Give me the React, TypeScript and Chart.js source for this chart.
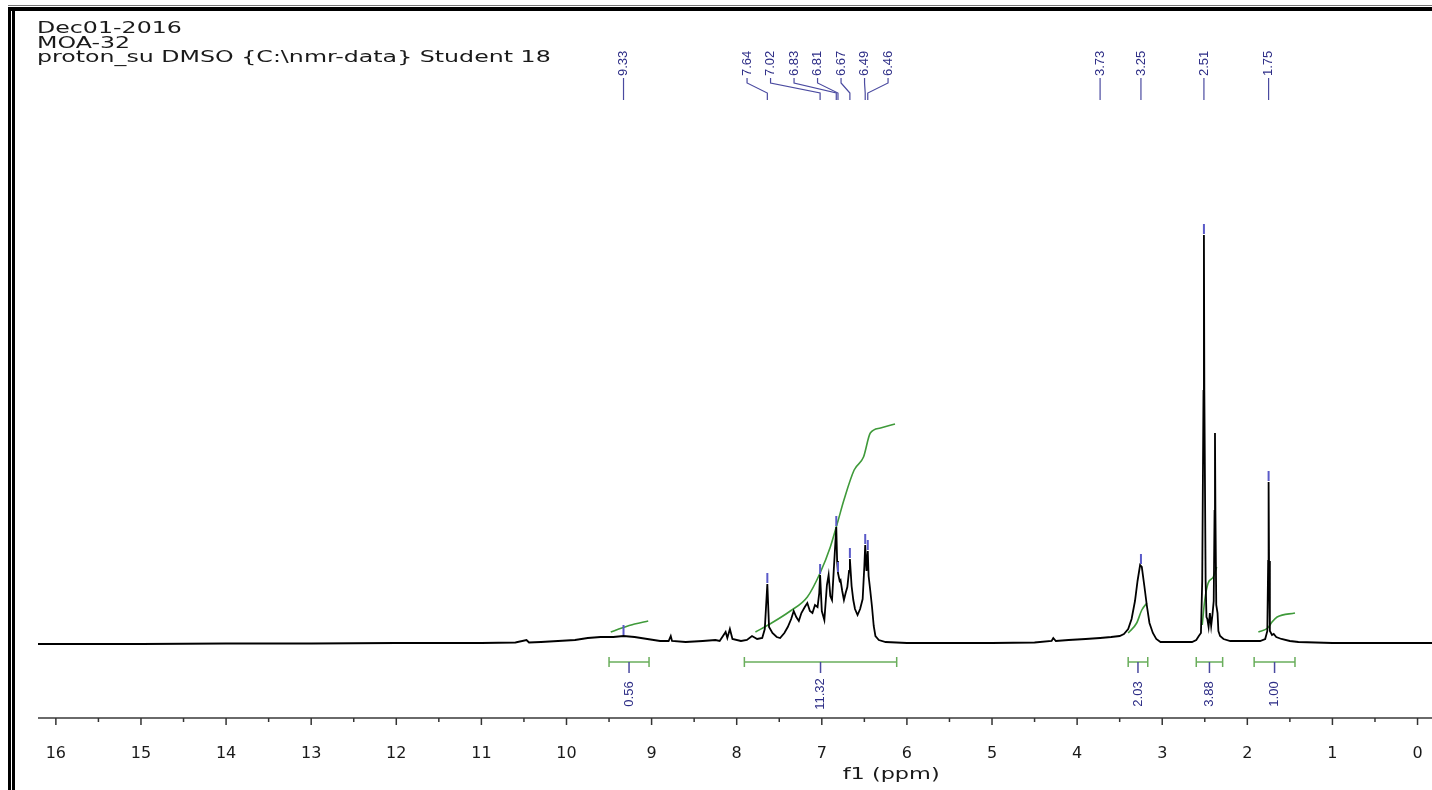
import React, { useEffect, useRef } from 'react';
import { Chart, registerables } from 'chart.js';

Chart.register(...registerables);

// ---------- text ----------
const TITLE_LINES = ['Dec01-2016', 'MOA-32', 'proton_su DMSO {C:\\nmr-data} Student 18'];
const AXIS_TITLE = 'f1 (ppm)';
const X_TICKS = [0, 1, 2, 3, 4, 5, 6, 7, 8, 9, 10, 11, 12, 13, 14, 15, 16];

// ---------- spectrum (ppm, intensity) ----------
const SPEC_PPM = [
  16.21, 15.0, 14.0, 13.0, 12.0, 11.0, 10.6, 10.47, 10.44, 10.3,
  10.1, 9.9, 9.75, 9.6, 9.45, 9.33, 9.2, 9.05, 8.9, 8.8, 8.775, 8.76, 8.6, 8.4, 8.25,
  8.2, 8.13, 8.11, 8.08, 8.05, 7.95, 7.88, 7.82, 7.76, 7.7, 7.67, 7.64, 7.62, 7.58, 7.53,
  7.49, 7.44, 7.4, 7.36, 7.33, 7.3, 7.27, 7.24, 7.2, 7.17, 7.14, 7.11, 7.08, 7.05, 7.03,
  7.02, 7.0, 6.97, 6.94, 6.92, 6.9, 6.88, 6.86, 6.83, 6.82, 6.81, 6.79, 6.78, 6.76, 6.74,
  6.72, 6.7, 6.68, 6.67, 6.65, 6.63, 6.61, 6.58, 6.55, 6.52, 6.5, 6.49, 6.475, 6.46, 6.45,
  6.43, 6.41, 6.39, 6.37, 6.33, 6.25, 6.0, 5.5, 5.0, 4.5, 4.3, 4.28, 4.25, 4.1, 3.9,
  3.73, 3.6, 3.5, 3.45, 3.4, 3.36, 3.32, 3.29, 3.26, 3.24, 3.21, 3.18, 3.15, 3.11, 3.07,
  3.02, 2.95, 2.85, 2.65, 2.6, 2.57, 2.545, 2.53, 2.515, 2.51, 2.505, 2.49, 2.48, 2.47, 2.455,
  2.44, 2.425, 2.41, 2.395, 2.385, 2.38, 2.375, 2.365, 2.35, 2.34, 2.32, 2.28, 2.2, 1.95, 1.85,
  1.79, 1.765, 1.755, 1.75, 1.745, 1.735, 1.71, 1.69, 1.66, 1.6, 1.5, 1.4, 1.0, 0.5, 0.0, -0.17,
];
const SPEC_INT = [
  -3, -3, -2.5, -2.5, -2, -2, -1.5, 1, -1.5, -1,
  0, 1, 3, 4, 4, 5, 4, 2, 0, 0, 5, 0, -1, 0, 1,
  0, 9, 3, 12, 2, 0, 1, 5, 2, 3, 12, 57, 14, 8, 4,
  3, 8, 14, 22, 30, 24, 20, 28, 34, 38, 30, 28, 36, 34, 48,
  66, 30, 21, 56, 66, 45, 41, 70, 114, 80, 68, 60, 61, 50, 41,
  48, 54, 70, 82, 55, 41, 32, 26, 32, 42, 75, 96, 70, 90, 65,
  50, 34, 15, 5, 1, -1, -2, -2, -2, -1.5, 0, 3, 0, 1, 2,
  3, 4, 5, 7, 12, 22, 40, 60, 76, 74, 55, 35, 18, 8, 2,
  -1, -1, -1, -1, 1, 5, 8, 60, 250, 406, 250, 60, 24, 22, 14,
  28, 15, 26, 40, 130, 208, 130, 36, 28, 10, 5, 2, 0, 0, 0,
  2, 10, 80, 159, 80, 10, 6, 7, 4, 2, 0, -1, -2, -2, -2, -2,
];

// ---------- integral curves ----------
const INT1_PPM = [9.48, 9.35, 9.2, 9.04];
const INT1_VAL = [9, 13, 17, 20];
const INT2_PPM = [7.78, 7.61, 7.37, 7.17, 7.02, 6.9, 6.81, 6.74, 6.62, 6.51, 6.43, 6.31, 6.14];
const INT2_VAL = [9, 17, 30, 44, 68, 94, 120, 141, 171, 184, 208, 213, 217];
const INT3_PPM = [3.4, 3.3, 3.24, 3.18];
const INT3_VAL = [8, 18, 31, 38];
const INT4_PPM = [2.53, 2.5, 2.46, 2.4, 2.36];
const INT4_VAL = [16, 41, 58, 64, 74];
const INT5_PPM = [1.87, 1.76, 1.71, 1.65, 1.44];
const INT5_VAL = [9, 13, 19, 24, 28];

// ---------- peak picking & integration ----------
const PEAK_LABELS = [9.33, 7.64, 7.02, 6.83, 6.81, 6.67, 6.49, 6.46, 3.73, 3.25, 2.51, 1.75];
const BRACKET_FROM = [9.5, 7.91, 3.4, 2.6, 1.92];
const BRACKET_TO = [9.03, 6.12, 3.17, 2.29, 1.44];
const BRACKET_VALUES = ['0.56', '11.32', '2.03', '3.88', '1.00'];

const toPoints = (xs: number[], ys: number[]) => xs.map((x, i) => ({ x, y: ys[i] }));

const BLUE = '#2d2d86';
const BLUE_LINE = '#4a4aa0';
const GREEN = '#3f9a3a';
const GREEN_BRACKET = '#6aae5c';

const decorPlugin = {
  id: 'nmrDecor',
  afterDraw(chart: any) {
    const ctx: CanvasRenderingContext2D = chart.ctx;
    const xs = chart.scales.x;
    const ys = chart.scales.y;
    ctx.save();

    // window frame
    ctx.fillStyle = '#777';
    ctx.fillRect(8, 5, 1432, 1);
    ctx.fillStyle = '#000';
    ctx.fillRect(8, 7, 1432, 4);
    ctx.fillRect(8, 7, 3, 790);
    ctx.fillRect(12, 7, 3, 790);

    // title lines
    ctx.fillStyle = '#1a1a1a';
    ctx.font = '15px "DejaVu Sans"';
    ctx.textAlign = 'left';
    ctx.textBaseline = 'alphabetic';
    TITLE_LINES.forEach((line, i) => {
      ctx.save();
      ctx.translate(37, 33 + i * 14.5);
      ctx.scale(1.58, 1);
      ctx.fillText(line, 0, 0);
      ctx.restore();
    });

    // x axis line and ticks
    const axisY = xs.top;
    ctx.strokeStyle = '#6a6a6a';
    ctx.lineWidth = 2;
    ctx.beginPath();
    ctx.moveTo(xs.left, axisY);
    ctx.lineTo(xs.right, axisY);
    ctx.stroke();
    ctx.strokeStyle = '#333';
    ctx.lineWidth = 1.5;
    X_TICKS.forEach((t) => {
      const px = xs.getPixelForValue(t);
      ctx.beginPath();
      ctx.moveTo(px, axisY);
      ctx.lineTo(px, axisY + 7);
      ctx.stroke();
      const half = t + 0.5;
      if (half <= xs.max) {
        const ph = xs.getPixelForValue(half);
        ctx.beginPath();
        ctx.moveTo(ph, axisY);
        ctx.lineTo(ph, axisY + 4);
        ctx.stroke();
      }
    });

    // axis title
    ctx.fillStyle = '#1a1a1a';
    ctx.font = '16px "DejaVu Sans"';
    ctx.textAlign = 'center';
    ctx.textBaseline = 'middle';
    ctx.save();
    ctx.translate(xs.left + (xs.right - xs.left) * 0.612, 775);
    ctx.scale(1.4, 1);
    ctx.fillText(AXIS_TITLE, 0, 0);
    ctx.restore();

    // peak labels: spread positions
    const peakPx = PEAK_LABELS.map((p) => xs.getPixelForValue(p));
    const gap = 23.5;
    let groups = peakPx.map((p, i) => ({ a: i, b: i, c: p }));
    let merged = true;
    while (merged) {
      merged = false;
      for (let i = 0; i < groups.length - 1; i++) {
        const g1 = groups[i];
        const g2 = groups[i + 1];
        const r1 = g1.c + ((g1.b - g1.a) * gap) / 2;
        const l2 = g2.c - ((g2.b - g2.a) * gap) / 2;
        if (l2 - r1 < gap) {
          const a = g1.a;
          const b = g2.b;
          groups.splice(i, 2, { a, b, c: (peakPx[a] + peakPx[b]) / 2 });
          merged = true;
          break;
        }
      }
    }
    const labelPx: number[] = [];
    groups.forEach((g) => {
      const n = g.b - g.a;
      for (let k = 0; k <= n; k++) labelPx[g.a + k] = g.c - (n * gap) / 2 + k * gap;
    });

    PEAK_LABELS.forEach((p, i) => {
      const lx = labelPx[i];
      const px = peakPx[i];
      ctx.strokeStyle = BLUE_LINE;
      ctx.lineWidth = 1.2;
      ctx.beginPath();
      ctx.moveTo(lx, 78);
      ctx.lineTo(lx, 83);
      ctx.lineTo(px, 93);
      ctx.lineTo(px, 100);
      ctx.stroke();
      ctx.save();
      ctx.translate(lx, 76);
      ctx.rotate(-Math.PI / 2);
      ctx.fillStyle = BLUE;
      ctx.font = '13px "Liberation Sans"';
      ctx.textAlign = 'left';
      ctx.textBaseline = 'middle';
      ctx.fillText(p.toFixed(2), 0, 0);
      ctx.restore();

      // marker above peak top (only for peaks rising clearly above the baseline)
      let best = 0;
      SPEC_PPM.forEach((q, j) => {
        if (Math.abs(q - p) < Math.abs(SPEC_PPM[best] - p)) best = j;
      });
      if (SPEC_INT[best] > 4.5) {
        const topY = ys.getPixelForValue(SPEC_INT[best]);
        ctx.strokeStyle = '#5a5ac8';
        ctx.lineWidth = 2;
        ctx.beginPath();
        ctx.moveTo(px, topY - 11);
        ctx.lineTo(px, topY - 1);
        ctx.stroke();
      }
    });

    // integration brackets
    const by = ys.getPixelForValue(-21);
    BRACKET_FROM.forEach((f, i) => {
      const x1 = xs.getPixelForValue(f);
      const x2 = xs.getPixelForValue(BRACKET_TO[i]);
      const xm = (x1 + x2) / 2;
      ctx.strokeStyle = GREEN_BRACKET;
      ctx.lineWidth = 1.5;
      ctx.beginPath();
      ctx.moveTo(x1, by);
      ctx.lineTo(x2, by);
      ctx.moveTo(x1, by - 5);
      ctx.lineTo(x1, by + 5);
      ctx.moveTo(x2, by - 5);
      ctx.lineTo(x2, by + 5);
      ctx.stroke();
      ctx.strokeStyle = BLUE_LINE;
      ctx.beginPath();
      ctx.moveTo(xm, by);
      ctx.lineTo(xm, by + 11);
      ctx.stroke();
      ctx.save();
      ctx.translate(xm, by + 32);
      ctx.rotate(-Math.PI / 2);
      ctx.fillStyle = BLUE;
      ctx.font = '13px "Liberation Sans"';
      ctx.textAlign = 'center';
      ctx.textBaseline = 'middle';
      ctx.fillText(BRACKET_VALUES[i], 0, 0);
      ctx.restore();
    });

    ctx.restore();
  },
};

export default function App() {
  const ref = useRef<HTMLCanvasElement | null>(null);
  useEffect(() => {
    if (!ref.current) return;
    const integralStyle = {
      borderColor: GREEN,
      borderWidth: 1.6,
      pointRadius: 0,
      cubicInterpolationMode: 'monotone' as const,
      fill: false,
    };
    const chart = new Chart(ref.current, {
      type: 'line',
      data: {
        datasets: [
          {
            label: 'spectrum',
            data: toPoints(SPEC_PPM, SPEC_INT),
            borderColor: '#000',
            borderWidth: 1.8,
            pointRadius: 0,
            tension: 0,
            fill: false,
          },
          { label: 'int1', data: toPoints(INT1_PPM, INT1_VAL), ...integralStyle },
          { label: 'int2', data: toPoints(INT2_PPM, INT2_VAL), ...integralStyle },
          { label: 'int3', data: toPoints(INT3_PPM, INT3_VAL), ...integralStyle },
          { label: 'int4', data: toPoints(INT4_PPM, INT4_VAL), ...integralStyle },
          { label: 'int5', data: toPoints(INT5_PPM, INT5_VAL), ...integralStyle },
        ],
      },
      options: {
        animation: false,
        responsive: false,
        layout: { padding: { left: 38, right: 0, top: 100, bottom: 0 } },
        plugins: { legend: { display: false }, tooltip: { enabled: false } },
        events: [],
        scales: {
          x: {
            type: 'linear',
            reverse: true,
            min: -0.17,
            max: 16.21,
            afterFit: (s: any) => {
              s.height = 72;
              s.paddingLeft = 0;
              s.paddingRight = 0;
            },
            grid: { display: false, drawTicks: false },
            border: { display: false },
            ticks: {
              stepSize: 1,
              includeBounds: false,
              autoSkip: false,
              maxRotation: 0,
              padding: 26,
              color: '#1a1a1a',
              font: { family: 'DejaVu Sans', size: 16 },
              callback: (v: any) => String(v),
            },
          },
          y: { type: 'linear', display: false, min: -77, max: 541 },
        },
      },
      plugins: [decorPlugin],
    });
    return () => chart.destroy();
  }, []);
  return (
    <div style={{ position: 'fixed', left: 0, top: 0, width: 1432, height: 790, background: '#fff' }}>
      <canvas ref={ref} width={1432} height={790} style={{ display: 'block' }} />
    </div>
  );
}
